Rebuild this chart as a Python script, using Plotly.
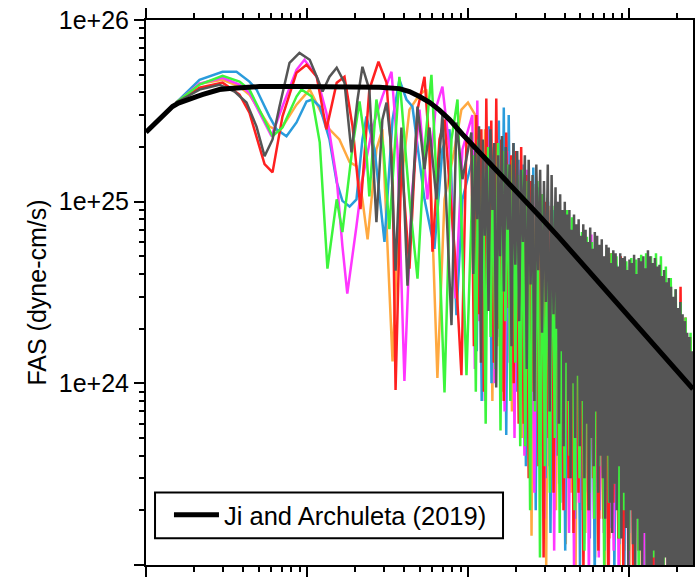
import numpy as np
import plotly.graph_objects as go

# Fourier amplitude spectra, amplitudes listed in units of 1e24 dyne-cm/s
SCALE = 1e24

# Ji and Archuleta (2019) source model
ja_freq = [0.0100, 0.0112, 0.0121, 0.0133, 0.0146, 0.0159, 0.0173, 0.0189, 0.0206, 0.0226,
           0.0248, 0.0286, 0.0330, 0.0381, 0.0507, 0.0898, 0.159, 0.282, 0.375, 0.433,
           0.500, 0.577, 0.665, 0.768, 0.924, 1.18, 1.57, 2.09, 2.78, 3.70,
           4.93, 6.56, 8.73, 11.6, 15.5, 20.6, 25.0]
ja_amp = [24.1, 26.6, 28.7, 31.1, 33.4, 34.9, 36.0, 37.0, 37.9, 38.9,
          39.8, 41.4, 42.0, 42.4, 43.0, 43.0, 43.0, 42.7, 41.9, 40.4,
          37.9, 35.2, 31.9, 28.3, 23.5, 18.7, 14.5, 11.0, 8.34, 6.32,
          4.73, 3.59, 2.68, 2.01, 1.52, 1.14, 0.93]

# ---- low-frequency part of each simulated spectrum (explicit samples) ----
gray_low_f = [0.0154, 0.0215, 0.0286, 0.0355, 0.0421, 0.0486, 0.0545, 0.0611, 0.0675, 0.0779,
              0.0898, 0.104, 0.117, 0.125, 0.138, 0.153, 0.171, 0.189, 0.206, 0.221,
              0.244, 0.270, 0.294, 0.312, 0.330, 0.355, 0.386, 0.421, 0.486, 0.537,
              0.577, 0.637, 0.694, 0.790, 0.848, 0.924]
gray_low_a = [35.1, 41.4, 44.0, 40.4, 35.1, 25.9, 17.8, 22.0, 33.4, 58.1,
              65.9, 60.4, 46.9, 40.4, 48.7, 54.6, 45.2, 18.7, 36.5, 55.3,
              41.4, 7.7, 28.3, 35.1, 22.0, 4.17, 25.6, 3.45, 33.4, 15.1,
              25.6, 10.3, 30.2, 2.09, 27.3, 13.3]

red_low_f = [0.0154, 0.0215, 0.0299, 0.0381, 0.0439, 0.0545, 0.0611, 0.0704, 0.0861, 0.0993,
             0.115, 0.132, 0.153, 0.171, 0.192, 0.215, 0.244, 0.278, 0.312, 0.340,
             0.355, 0.386, 0.433, 0.486, 0.537, 0.577, 0.602, 0.665, 0.715, 0.825,
             0.911, 0.979]
red_low_a = [35.1, 42.4, 45.2, 38.8, 30.9, 16.1, 14.5, 29.4, 51.3, 56.7,
             48.7, 25.0, 45.2, 48.7, 25.9, 9.1, 41.4, 58.9, 45.2, 15.1,
             0.92, 17.1, 4.28, 32.1, 48.7, 19.4, 5.3, 22.0, 28.3, 5.5,
             1.11, 22.0]

magenta_low_f = [0.0154, 0.0215, 0.0299, 0.0381, 0.0439, 0.0602, 0.0704, 0.0861, 0.0965, 0.115,
                 0.132, 0.153, 0.166, 0.178, 0.203, 0.221, 0.256, 0.294, 0.335, 0.365,
                 0.403, 0.446, 0.500, 0.560, 0.628, 0.694, 0.768, 0.836, 0.924]
magenta_low_a = [35.1, 44.6, 48.1, 44.1, 39.8, 22.9, 33.4, 53.2, 60.4, 48.7,
                 30.9, 13.3, 5.7, 3.12, 7.35, 13.3, 25.9, 37.9, 51.9, 19.4,
                 1.03, 10.3, 32.1, 10.3, 32.1, 43.0, 19.4, 2.93, 19.4]

green_low_f = [0.0154, 0.0215, 0.0299, 0.0381, 0.0439, 0.0611, 0.0704, 0.0861, 0.0924, 0.107,
               0.120, 0.134, 0.153, 0.166, 0.192, 0.212, 0.234, 0.244, 0.270, 0.299,
               0.325, 0.375, 0.433, 0.486, 0.537, 0.593, 0.646, 0.715, 0.790, 0.861,
               0.979]
green_low_a = [35.1, 44.1, 49.3, 45.8, 41.4, 22.9, 25.6, 37.9, 41.4, 37.9,
               21.2, 4.28, 10.3, 6.8, 20.2, 35.6, 18.7, 10.7, 36.5, 19.4,
               7.06, 48.7, 10.3, 3.77, 19.4, 49.9, 10.3, 0.89, 22.0, 36.5,
               1.11]

blue_low_f = [0.0154, 0.0215, 0.0299, 0.0365, 0.0439, 0.0486, 0.0585, 0.0647, 0.0746, 0.0861,
              0.0993, 0.108, 0.120, 0.138, 0.153, 0.166, 0.184, 0.203, 0.221, 0.234,
              0.263, 0.303, 0.340, 0.375, 0.415, 0.452, 0.537, 0.619, 0.694, 0.768,
              0.848, 0.924]
blue_low_a = [35.1, 46.9, 51.9, 51.9, 45.8, 41.4, 29.4, 25.0, 22.9, 27.3,
              35.6, 36.5, 33.4, 22.0, 12.8, 10.1, 9.4, 10.3, 22.0, 29.4,
              19.4, 6.0, 28.3, 46.9, 36.5, 33.4, 10.3, 5.5, 19.4, 25.0,
              2.37, 10.3]

orange_low_f = [0.0154, 0.0215, 0.0299, 0.0381, 0.0439, 0.0585, 0.0675, 0.0861, 0.104, 0.120,
                0.138, 0.159, 0.184, 0.203, 0.221, 0.238, 0.270, 0.294, 0.340, 0.375,
                0.433, 0.500, 0.552, 0.593, 0.646, 0.715, 0.825, 0.911, 1.0]
orange_low_a = [35.1, 44.6, 46.9, 43.0, 38.8, 25.9, 24.4, 34.2, 41.4, 32.1,
                25.0, 22.0, 16.5, 15.7, 10.3, 6.2, 19.4, 25.0, 1.32, 10.3,
                32.1, 38.8, 41.4, 10.3, 1.07, 10.3, 19.4, 32.1, 35.1]

# ---- high-frequency part: successive local maxima / minima above 1 Hz ----
# dark gray record: 1.05-3.4 Hz band and 3.5-25 Hz band
gray_hf1_peaks = [24, 19, 26, 22, 17, 25, 21, 18, 23, 20, 16,
                  21, 19, 15, 18, 17, 14, 16, 15, 13, 16, 14]
gray_hf1_troughs = [4.0, 8.0, 1.3, 6.5, 2.5, 9.0, 0.95, 5.0, 3.2, 7.0, 1.6,
                    4.5, 2.2, 6.0, 1.2, 3.5, 0.8, 4.2, 1.9, 2.8, 0.7, 2.4]
gray_hf2_peaks = [12, 10, 11, 9, 10, 8.5, 9, 7, 8.5, 7.5,
                  8, 6.5, 7.5, 7, 6, 7.2, 5.5, 6.8, 6.5, 5.8,
                  6.2, 5, 5.8, 5.6, 4.6, 5.4, 5.2, 4.4, 5.2, 4.9,
                  5.0, 4.2, 4.8, 4.6, 5.1, 4.0, 4.9, 4.7, 5.0, 4.3,
                  5.4, 5.0, 4.6, 4.9, 4.4, 4.5, 3.9, 4.2, 3.6, 3.8,
                  3.4, 3.0, 3.3, 2.6, 2.8, 2.4, 2.2, 1.9, 1.8, 1.5]
gray_hf2_troughs = [2.0, 0.6, 1.5, 0.45, 1.3, 0.8, 0.3, 1.0, 0.5, 1.1,
                    0.45, 0.8, 0.3, 0.6, 0.2, 0.5, 0.35, 0.7, 0.25, 0.4,
                    0.3, 0.18, 0.4, 0.22, 0.15, 0.28, 0.2, 0.35, 0.14, 0.25,
                    0.16, 0.1, 0.2, 0.13, 0.08, 0.18, 0.12, 0.09, 0.15, 0.07,
                    0.09, 0.06, 0.12, 0.08, 0.05, 0.1, 0.07, 0.11, 0.06, 0.08,
                    0.07, 0.05, 0.09, 0.06, 0.08, 0.05, 0.07, 0.06, 0.05, 0.08]

red_hf_peaks = [20, 30, 25, 37, 28, 37, 22, 24, 18, 19,
                20, 14, 13, 12, 11, 10, 9, 8, 7.5, 7.5,
                7, 6.5, 6, 5.8, 5.5, 5.6, 5.4, 5.0, 5.2, 4.8,
                5.0, 4.5, 4.2, 4.4, 4.0, 4.2, 3.9, 4.0, 3.8, 3.3,
                3.2, 3.0, 3.4, 2.3, 1.8]
red_hf_troughs = [1.6, 2.4, 0.9, 3.0, 1.3, 2.0, 0.8, 2.6, 1.0, 0.6,
                  0.6, 0.3, 0.9, 0.35, 0.11, 0.5, 0.25, 0.4, 0.2, 0.3,
                  0.15, 0.25, 0.09, 0.2, 0.3, 0.12, 0.18, 0.08, 0.22, 0.14,
                  0.1, 0.16, 0.07, 0.12, 0.2, 0.09, 0.06, 0.13, 0.08, 0.1,
                  0.07, 0.12, 0.06, 0.09, 0.08]

magenta_hf_peaks = [30, 36, 20, 25, 18, 22, 17, 19, 14, 16,
                    13, 15, 12, 11.5, 10, 9, 9.5, 10, 7.5, 7,
                    6.5, 6.2, 6, 6.2, 6.6, 5.5, 5.2, 4.8, 4.6, 4.4,
                    4.2, 4.4, 4.0, 3.8, 4.1, 3.6, 3.7, 3.5, 3.3, 3.0,
                    2.8, 2.6, 2.4, 2.1, 1.8]
magenta_hf_troughs = [1.2, 2.2, 0.8, 3.0, 1.0, 1.8, 0.7, 1.3, 0.5, 0.9,
                      0.4, 0.7, 0.25, 0.5, 0.18, 0.35, 0.12, 0.28, 0.2, 0.15,
                      0.1, 0.22, 0.13, 0.08, 0.18, 0.11, 0.15, 0.07, 0.12, 0.09,
                      0.14, 0.06, 0.1, 0.12, 0.08, 0.11, 0.07, 0.09, 0.13, 0.06,
                      0.1, 0.08, 0.11, 0.07, 0.09]

green_hf_peaks = [18, 22, 15, 20, 17, 21, 19, 16, 17, 14,
                  15, 13, 12, 13, 11, 10.5, 9.5, 9, 8.5, 9,
                  8.2, 7, 6.8, 6.4, 6, 5.8, 5.6, 5.4, 5.2, 5.0,
                  4.9, 4.7, 4.9, 4.8, 5.1, 5.2, 5.0, 5.2, 5.0, 4.4,
                  3.8, 3.3, 2.8, 2.3, 1.9]
green_hf_troughs = [0.9, 3.0, 0.6, 1.8, 1.2, 0.55, 2.2, 0.8, 1.3, 0.45,
                    0.45, 0.2, 0.7, 0.11, 0.35, 0.25, 0.5, 0.15, 0.3, 0.4,
                    0.2, 0.3, 0.12, 0.25, 0.18, 0.35, 0.1, 0.22, 0.28, 0.14,
                    0.2, 0.12, 0.25, 0.09, 0.16, 0.21, 0.11, 0.18, 0.08, 0.15,
                    0.12, 0.2, 0.09, 0.14, 0.1]

blue_hf_peaks = [19, 24, 17, 26, 20, 28, 33, 30, 21, 17,
                 16, 14, 15.4, 12, 11, 10, 9, 8.5, 8, 7.2,
                 7, 6.5, 6.2, 5.7, 5.5, 5.4, 5.0, 4.8, 4.6, 4.5,
                 4.3, 4.1, 4.2, 3.9, 4.0, 3.8, 3.6, 3.4, 3.5, 3.1,
                 2.8, 2.6, 2.2, 1.8, 1.3]
blue_hf_troughs = [1.5, 0.8, 2.4, 1.0, 3.5, 1.3, 0.52, 2.0, 0.9, 1.2,
                   0.35, 0.55, 0.2, 0.45, 0.3, 0.15, 0.4, 0.22, 0.12, 0.3,
                   0.18, 0.1, 0.25, 0.14, 0.08, 0.2, 0.12, 0.16, 0.09, 0.13,
                   0.07, 0.15, 0.1, 0.12, 0.06, 0.11, 0.09, 0.14, 0.07, 0.1,
                   0.08, 0.12, 0.06, 0.09, 0.07]

orange_hf_peaks = [30, 22, 25, 18, 21, 16, 19, 15, 17, 13,
                   14, 12, 12.5, 11, 10, 9.5, 8.5, 8, 7.5, 7,
                   6.6, 6.2, 5.9, 5.6, 5.2, 5.0, 4.8, 4.6, 4.4, 4.2,
                   4.0, 4.1, 3.8, 3.7, 3.5, 3.6, 3.4, 3.2, 3.1, 2.9,
                   2.7, 2.5, 2.2, 1.9, 1.6]
orange_hf_troughs = [2.2, 1.0, 3.2, 0.8, 1.6, 0.9, 2.6, 0.7, 1.2, 0.5,
                     0.5, 0.145, 0.35, 0.6, 0.1, 0.3, 0.2, 0.4, 0.13, 0.25,
                     0.09, 0.2, 0.15, 0.3, 0.11, 0.18, 0.08, 0.14, 0.22, 0.1,
                     0.12, 0.08, 0.16, 0.1, 0.07, 0.13, 0.09, 0.11, 0.06, 0.1,
                     0.08, 0.11, 0.07, 0.09, 0.06]

F_MAX = 25.0


def zigzag(peaks, troughs):
    out = []
    for p, t in zip(peaks, troughs):
        out += [p, t]
    return out


def spectrum(low_f, low_a, bands):
    """Join the explicit low-frequency samples with the alternating
    maxima/minima of each high-frequency band (log-spaced sample grid)."""
    f_parts, a_parts = [np.asarray(low_f)], [np.asarray(low_a)]
    for f_lo, f_hi, peaks, troughs in bands:
        vals = zigzag(peaks, troughs)
        f_parts.append(np.geomspace(f_lo, f_hi, len(vals)))
        a_parts.append(np.asarray(vals))
    return np.concatenate(f_parts), np.concatenate(a_parts) * SCALE


# drawing order: the dark gray record is plotted last so it lies on top
series = [
    ("#FFA940", orange_low_f, orange_low_a, [(1.11, F_MAX, orange_hf_peaks, orange_hf_troughs)]),
    ("#2A9CDC", blue_low_f, blue_low_a, [(1.095, F_MAX, blue_hf_peaks, blue_hf_troughs)]),
    ("#FF36FF", magenta_low_f, magenta_low_a, [(1.065, F_MAX, magenta_hf_peaks, magenta_hf_troughs)]),
    ("#FF2020", red_low_f, red_low_a, [(1.05, F_MAX, red_hf_peaks, red_hf_troughs)]),
    ("#3CF53C", green_low_f, green_low_a, [(1.08, F_MAX, green_hf_peaks, green_hf_troughs)]),
    ("#555555", gray_low_f, gray_low_a, [(1.05, 3.4, gray_hf1_peaks, gray_hf1_troughs),
                                          (3.5, F_MAX, gray_hf2_peaks, gray_hf2_troughs)]),
]

fig = go.Figure()
for color, lf, la, bands in series:
    f, a = spectrum(lf, la, bands)
    fig.add_trace(go.Scatter(x=f, y=a, mode="lines", showlegend=False,
                             line=dict(color=color, width=2.5), hoverinfo="skip"))

fig.add_trace(go.Scatter(x=ja_freq, y=np.array(ja_amp) * SCALE, mode="lines",
                         name="Ji and Archuleta (2019)",
                         line=dict(color="black", width=5)))

x_major = [0.01, 0.1, 1, 10]
x_minor = [m * d for d in (0.01, 0.1, 1) for m in range(2, 10)] + [20]
y_major = [1e23, 1e24, 1e25, 1e26]
y_labels = ["1e+23", "1e+24", "1e+25", "1e+26"]
y_minor = [m * d for d in (1e23, 1e24, 1e25) for m in range(2, 10)]

FONT = "Liberation Sans, Arial, Helvetica, sans-serif"

fig.update_layout(
    width=695, height=577,
    margin=dict(l=146, r=2, t=20, b=9),
    paper_bgcolor="white", plot_bgcolor="white",
    font=dict(family=FONT, size=25, color="black"),
    showlegend=True,
    legend=dict(x=0.042, y=0.0912, xanchor="left", yanchor="middle",
                bgcolor="rgba(0,0,0,0)", borderwidth=0, itemwidth=45,
                font=dict(family=FONT, size=25.5, color="black")),
    # frame of the legend box
    shapes=[dict(type="rect", xref="paper", yref="paper",
                 x0=0.0165, x1=0.6527, y0=0.0493, y1=0.1332,
                 line=dict(color="black", width=2), fillcolor="white",
                 layer="above")],
)

fig.update_xaxes(
    type="log", range=[np.log10(0.01), np.log10(F_MAX)],
    showline=True, linecolor="black", linewidth=2, mirror="ticks",
    ticks="outside", ticklen=10, tickwidth=2, tickcolor="black",
    tickvals=x_major, showticklabels=False,
    showgrid=False, zeroline=False,
    minor=dict(tickvals=x_minor, ticks="outside", ticklen=5, tickwidth=1.5,
               tickcolor="black", showgrid=False),
)

fig.update_yaxes(
    type="log", range=[23, 26],
    showline=True, linecolor="black", linewidth=2, mirror="ticks",
    ticks="outside", ticklen=10, tickwidth=2, tickcolor="black",
    tickvals=y_major, ticktext=y_labels,
    tickfont=dict(family=FONT, size=25, color="black"),
    showgrid=False, zeroline=False, automargin=False,
    title=dict(text="FAS (dyne-cm/s)", standoff=5,
               font=dict(family=FONT, size=25, color="black")),
    minor=dict(tickvals=y_minor, ticks="outside", ticklen=5, tickwidth=1.5,
               tickcolor="black", showgrid=False),
)

fig.write_html("out.html")
